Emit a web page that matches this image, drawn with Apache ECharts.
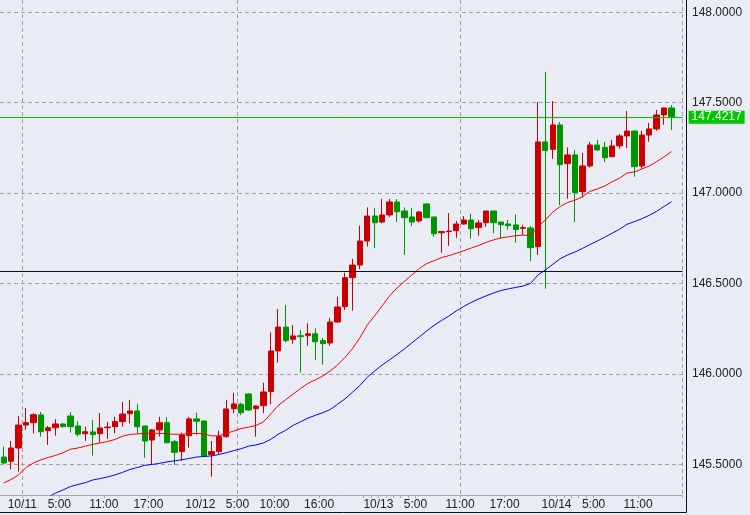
<!DOCTYPE html>
<html>
<head>
<meta charset="utf-8">
<script src="https://cdn.jsdelivr.net/npm/echarts@6/dist/echarts.min.js"></script>
<style>
html,body{margin:0;padding:0;background:#e9ecf4;}
#chart{width:750px;height:515px;}
</style>
</head>
<body>
<div id="chart"></div>
<script>
// Hourly USD/JPY candles, first candle = 10/10 21:00
const opens = [145.540,145.517,145.590,145.717,145.730,145.773,145.686,145.702,145.723,145.767,
145.712,145.669,145.679,145.669,145.702,145.708,145.736,145.780,145.795,145.712,
145.634,145.690,145.730,145.625,145.570,145.658,145.751,145.739,145.553,145.570,
145.653,145.808,145.832,145.889,145.808,145.824,145.902,146.127,146.259,146.191,
146.211,146.211,146.222,146.184,146.171,146.287,146.372,146.532,146.602,146.735,
146.873,146.840,146.879,146.951,146.901,146.868,146.846,146.940,146.868,146.781,
146.787,146.792,146.829,146.851,146.809,146.836,146.901,146.840,146.829,146.824,
146.805,146.807,146.704,147.283,147.242,147.377,147.163,147.211,147.008,147.150,
147.266,147.253,147.201,147.261,147.316,147.343,147.150,147.321,147.355,147.432,
147.471];
const closes = [145.507,145.590,145.717,145.730,145.774,145.680,145.702,145.723,145.708,145.708,
145.666,145.680,145.664,145.701,145.706,145.736,145.778,145.795,145.708,145.629,
145.690,145.730,145.619,145.566,145.662,145.751,145.738,145.546,145.570,145.653,
145.806,145.834,145.785,145.800,145.822,145.900,146.127,146.259,146.184,146.210,
146.206,146.222,146.178,146.167,146.287,146.370,146.532,146.602,146.735,146.873,
146.836,146.879,146.951,146.897,146.864,146.840,146.895,146.864,146.775,146.787,
146.790,146.829,146.851,146.803,146.835,146.901,146.836,146.825,146.820,146.798,
146.809,146.698,147.283,147.235,147.377,147.157,147.211,147.002,147.150,147.266,
147.238,147.196,147.261,147.316,147.343,147.146,147.321,147.355,147.432,147.471,
147.4217];
const lows = [145.502,145.472,145.459,145.690,145.671,145.653,145.607,145.658,145.702,145.675,
145.653,145.629,145.548,145.619,145.640,145.671,145.708,145.727,145.671,145.537,
145.500,145.653,145.616,145.496,145.518,145.592,145.662,145.542,145.431,145.557,
145.647,145.782,145.773,145.796,145.653,145.782,145.832,146.062,146.175,146.167,
146.007,146.156,146.077,146.051,146.156,146.283,146.353,146.350,146.579,146.704,
146.695,146.833,146.869,146.840,146.658,146.818,146.836,146.861,146.759,146.670,
146.709,146.753,146.824,146.748,146.764,146.814,146.778,146.748,146.798,146.726,
146.768,146.624,146.658,146.471,147.189,146.934,146.969,146.840,146.975,147.141,
147.235,147.172,147.201,147.246,147.249,147.091,147.135,147.284,147.345,147.378,
147.349];
const highs = [145.597,145.629,145.767,145.811,145.782,145.789,145.712,145.749,145.727,145.789,
145.738,145.708,145.745,145.784,145.734,145.763,145.845,145.856,145.834,145.712,
145.695,145.763,145.760,145.634,145.675,145.763,145.785,145.743,145.629,145.686,
145.856,145.896,145.841,145.893,145.826,145.951,146.230,146.359,146.381,146.270,
146.243,146.280,146.252,146.199,146.308,146.427,146.560,146.636,146.820,146.921,
146.918,146.967,146.967,146.967,146.921,146.918,146.901,146.944,146.868,146.787,
146.890,146.846,146.873,146.886,146.851,146.901,146.901,146.840,146.851,146.881,
146.824,146.818,147.504,147.670,147.509,147.393,147.253,147.238,147.222,147.283,
147.294,147.283,147.294,147.327,147.454,147.347,147.345,147.388,147.460,147.471,
147.487];
const maShort = [145.397,145.416,145.441,145.482,145.507,145.524,145.538,145.549,145.564,145.583,
145.590,145.600,145.610,145.618,145.626,145.637,145.655,145.665,145.668,145.671,
145.671,145.671,145.668,145.666,145.666,145.669,145.671,145.668,145.657,145.657,
145.671,145.684,145.698,145.705,145.715,145.734,145.779,145.825,145.857,145.888,
145.919,145.947,145.967,145.988,146.016,146.049,146.091,146.139,146.200,146.270,
146.322,146.376,146.431,146.475,146.511,146.547,146.582,146.610,146.626,146.643,
146.654,146.667,146.681,146.696,146.710,146.727,146.741,146.752,146.758,146.764,
146.767,146.765,146.815,146.851,146.895,146.926,146.948,146.961,146.980,147.009,
147.023,147.039,147.063,147.082,147.111,147.117,147.133,147.150,147.174,147.200,
147.230];
const maLong = [null,null,null,null,null,null,145.319,145.341,145.358,145.377,
145.388,145.398,145.413,145.421,145.430,145.441,145.455,145.471,145.482,145.494,
145.499,145.505,145.513,145.519,145.525,145.532,145.540,145.543,145.546,145.554,
145.564,145.575,145.586,145.600,145.607,145.618,145.638,145.666,145.688,145.715,
145.735,145.755,145.771,145.785,145.803,145.832,145.862,145.898,145.936,145.981,
146.016,146.049,146.077,146.107,146.138,146.171,146.204,146.237,146.268,146.295,
146.320,146.348,146.373,146.395,146.414,146.431,146.447,146.461,146.470,146.478,
146.486,146.500,146.547,146.575,146.606,146.637,146.658,146.674,146.694,146.715,
146.735,146.756,146.778,146.800,146.827,146.842,146.858,146.877,146.899,146.926,
146.952];
const lastPrice = 147.4217;
const hLine = 146.570;
const yMin = 145.330, yMax = 148.068;
// time axis: 92 hourly slots starting 10/10 21:00
const slotCount = 92, startHour = 21, startDay = 10;
const categories = [];
for (let i = 0; i < slotCount; i++) {
  const h = (startHour + i) % 24;
  const d = startDay + Math.floor((startHour + i) / 24);
  categories.push(h === 0 ? ('10/' + d) : (h + ':00'));
}
const labelIdx = [3,8,14,20,27,32,37,43,51,56,62,68,75,80,86];
const extraTickIdx = [49,50,52,53,54,55,74,76,77,78,79];
const vGridIdx = [3,32,62];

const candleData = opens.map((o, i) => [o, closes[i], lows[i], highs[i]]);
const FONT = 'Liberation Sans, Arial, sans-serif';
const labelSet = new Set(labelIdx);
const tickSet = new Set(labelIdx.concat(extraTickIdx));
const vGridSet = new Set(vGridIdx);

const chart = echarts.init(document.getElementById('chart'), null, {renderer: 'canvas'});
chart.setOption({
  animation: false,
  backgroundColor: '#e9ecf4',
  grid: {left: 0, top: 0, width: 682.6, height: 495, containLabel: false},
  xAxis: {
    type: 'category',
    data: categories,
    boundaryGap: true,
    axisLine: {show: true, lineStyle: {color: '#a8a8a8', width: 1}},
    axisTick: {show: true, length: 3, lineStyle: {color: '#a8a8a8'}, interval: (i) => tickSet.has(i)},
    axisLabel: {
      interval: (i) => labelSet.has(i),
      color: '#222', fontSize: 12, fontFamily: FONT, margin: 4,
      padding: [0, 7.4, 0, 0]
    },
    splitLine: {show: true, interval: (i) => vGridSet.has(i), lineStyle: {color: '#a0a0a0', type: [4, 3], width: 1}}
  },
  yAxis: {
    type: 'value',
    position: 'right',
    offset: 3.4,
    min: yMin, max: yMax,
    minInterval: 0.5, maxInterval: 0.5,
    scale: true,
    axisLine: {show: false},
    axisTick: {show: false},
    axisLabel: {
      color: '#222', fontSize: 12, fontFamily: FONT, margin: 6,
      showMinLabel: false, showMaxLabel: false,
      formatter: (v) => v.toFixed(4)
    },
    splitLine: {show: true, showMinLine: false, showMaxLine: false, lineStyle: {color: '#a0a0a0', type: [4, 3], width: 1}}
  },
  series: [
    {
      type: 'candlestick',
      data: candleData,
      barWidth: 5.8,
      itemStyle: {
        color: '#cc0000', color0: '#009600',
        borderColor: '#cc0000', borderColor0: '#009600', borderWidth: 1
      },
      markLine: {
        silent: true,
        symbol: ['none', 'none'],
        animation: false,
        data: [
          {yAxis: hLine, lineStyle: {color: '#111', width: 1, type: 'solid'}, label: {show: false}},
          {yAxis: lastPrice, lineStyle: {color: '#00c000', width: 1, type: 'solid'},
           label: {show: true, position: 'end', distance: 6, formatter: () => lastPrice.toFixed(4),
                   backgroundColor: '#00c800', color: '#fff', fontSize: 12, fontFamily: FONT, padding: [1, 3, 0, 3]}}
        ]
      }
    },
    {
      type: 'line', data: maShort, showSymbol: false, symbol: 'none',
      lineStyle: {color: '#ff0000', width: 1}, z: 3
    },
    {
      type: 'line', data: maLong, showSymbol: false, symbol: 'none',
      lineStyle: {color: '#0000ff', width: 1}, z: 3
    }
  ],
  graphic: [{
    type: 'polyline',
    shape: {points: [[686.5, 0], [686.5, 512.5], [0, 512.5]]},
    style: {stroke: '#111', lineWidth: 1, fill: null},
    z: 100
  }]
});
</script>
</body>
</html>
